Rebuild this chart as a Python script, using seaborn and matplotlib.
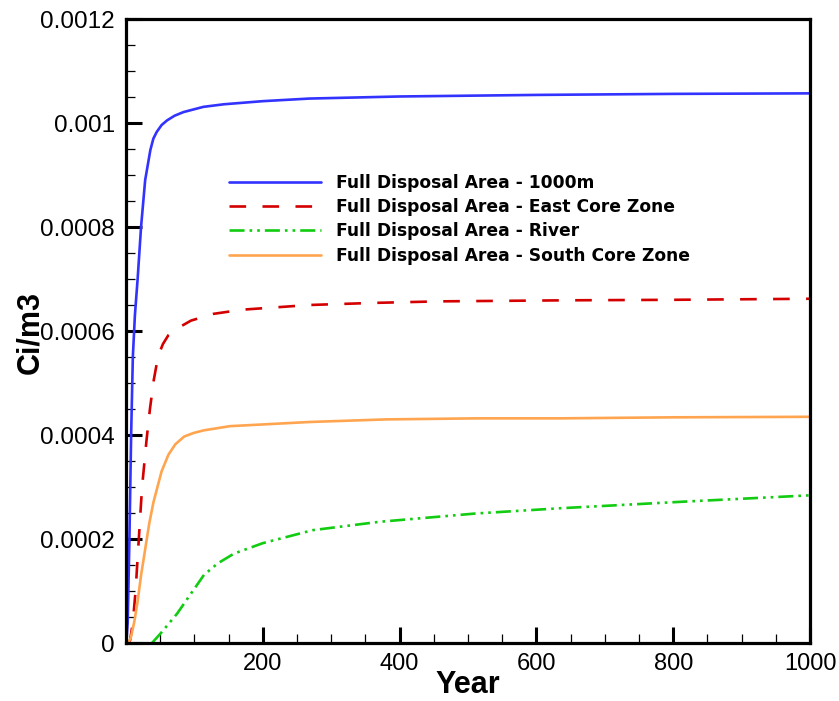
import matplotlib
matplotlib.use("Agg")
import matplotlib.pyplot as plt
from matplotlib import font_manager
from matplotlib.ticker import MultipleLocator, FixedLocator, FixedFormatter
import seaborn as sns
import pandas as pd

# Concentration histories (Ci/m3) against time (years)
years_1000m = [0, 1, 2.5, 5, 7.5, 10, 13, 17, 22, 28, 35.6, 40, 45, 52, 60, 71,
               84, 113, 143, 200, 268, 400, 600, 800, 1000]
conc_1000m = [0, 0.00001, 0.00004, 0.0002, 0.0004, 0.00055, 0.00063, 0.0007,
              0.0008, 0.00089, 0.000948, 0.00097, 0.000983, 0.000996, 0.001005,
              0.001014, 0.001021, 0.001031, 0.001036, 0.001042, 0.001047,
              0.001051, 0.001054, 0.001056, 0.001057]

years_east = [2, 6, 10, 14, 18, 23.5, 30, 35, 40.5, 47, 54, 62, 75, 95, 128,
              170, 268, 361, 458, 643, 800, 1000]
conc_east = [0, 0.000005, 0.00004, 0.0001, 0.000185, 0.0003, 0.00039, 0.00045,
             0.000505, 0.000552, 0.000575, 0.000592, 0.000605, 0.00062,
             0.000633, 0.000641, 0.00065, 0.000654, 0.000657, 0.000659,
             0.00066, 0.000662]

years_river = [38, 51, 75, 95, 114, 134, 158, 200, 273, 370, 511, 633, 818, 1000]
conc_river = [0, 0.000019, 0.000057, 0.000095, 0.000131, 0.000153, 0.000172,
              0.000192, 0.000217, 0.000233, 0.000249, 0.000259, 0.000272,
              0.000284]

years_south = [3, 7, 12, 17, 22, 28, 34, 40, 46, 52, 62, 72, 85, 99, 114, 152,
               268, 380, 511, 633, 800, 1000]
conc_south = [0, 0.00001, 0.00004, 0.00008, 0.00013, 0.00018, 0.00023,
              0.00027, 0.0003, 0.00033, 0.000362, 0.000382, 0.000397, 0.000404,
              0.000409, 0.000417, 0.000425, 0.00043, 0.000432, 0.000432,
              0.000434, 0.000435]

series_names = ["Full Disposal Area - 1000m",
                "Full Disposal Area - East Core Zone",
                "Full Disposal Area - River",
                "Full Disposal Area - South Core Zone"]

y_ticks = [0, 0.0002, 0.0004, 0.0006, 0.0008, 0.001, 0.0012]
y_tick_labels = ["0", "0.0002", "0.0004", "0.0006", "0.0008", "0.001", "0.0012"]
x_ticks = [200, 400, 600, 800, 1000]
x_tick_labels = ["200", "400", "600", "800", "1000"]

sns.set_style("white")
plt.rcParams["font.family"] = ["Liberation Sans", "DejaVu Sans"]
plt.rcParams["text.color"] = "black"
plt.rcParams["axes.labelcolor"] = "black"
plt.rcParams["xtick.color"] = "black"
plt.rcParams["ytick.color"] = "black"

# Condensed bold face for the axis titles when available
installed = {f.name for f in font_manager.fontManager.ttflist}
if "Liberation Sans Narrow" in installed:
    title_family, title_size = ["Liberation Sans Narrow", "DejaVu Sans"], 26
else:
    title_family, title_size = ["Liberation Sans", "DejaVu Sans"], 22

fig = plt.figure(figsize=(8.39, 7.01), dpi=100)
ax = fig.add_axes([126 / 839, 58 / 701, 684 / 839, 624 / 701])

LW = 1.9
styles = [
    dict(color="#3333ff", dashes=None),
    dict(color="#d40000", dashes=(6.3, 6.2)),
    dict(color="#11cc11", dashes=(5.7, 1.9, 1.0, 1.9, 1.0, 1.9)),
    dict(color="#ffa550", dashes=None),
]
series = [(years_1000m, conc_1000m), (years_east, conc_east),
          (years_river, conc_river), (years_south, conc_south)]

for (xs, ys), name, st in zip(series, series_names, styles):
    df = pd.DataFrame({"Year": xs, "Conc": ys})
    sns.lineplot(data=df, x="Year", y="Conc", ax=ax, color=st["color"],
                 linewidth=LW, label=name, estimator=None, sort=False)
    ln = ax.get_lines()[-1]
    if st["dashes"] is not None:
        ln.set_dashes(list(st["dashes"]))

ax.set_xlim(0, 1000)
ax.set_ylim(0, 0.0012)

ax.xaxis.set_major_locator(FixedLocator(x_ticks))
ax.xaxis.set_major_formatter(FixedFormatter(x_tick_labels))
ax.xaxis.set_minor_locator(MultipleLocator(50))
ax.yaxis.set_major_locator(FixedLocator(y_ticks))
ax.yaxis.set_major_formatter(FixedFormatter(y_tick_labels))
ax.yaxis.set_minor_locator(MultipleLocator(0.00005))

ax.tick_params(axis="both", which="major", direction="in", length=11.5,
               width=2.2, color="black", labelcolor="black",
               bottom=True, left=True, top=False, right=False)
ax.tick_params(axis="y", which="major", pad=8, labelsize=17.5)
ax.tick_params(axis="x", which="major", pad=7, labelsize=17)
ax.tick_params(axis="both", which="minor", direction="in", length=6.5,
               width=0.9, color="black", bottom=True, left=True, top=False,
               right=False)

for side in ["left", "bottom", "top", "right"]:
    ax.spines[side].set_visible(True)
    ax.spines[side].set_color("black")
    ax.spines[side].set_linewidth(2.3)

ax.set_xlabel("Year", fontsize=title_size, fontweight="bold",
              family=title_family)
ax.set_ylabel("Ci/m3", fontsize=title_size, fontweight="bold",
              family=title_family)
ax.xaxis.label.set_va("center")
ax.yaxis.label.set_va("center")
ax.xaxis.set_label_coords(0.5, (643 - 685) / 624)
ax.yaxis.set_label_coords((30 - 126) / 684, (643 - 332) / 624)

leg = ax.legend(loc="upper left", bbox_to_anchor=(0.1506, 0.752), frameon=False,
                prop={"family": "DejaVu Sans", "weight": "bold", "size": 12.3},
                handlelength=5.4, handletextpad=0.85, labelspacing=0.37,
                borderaxespad=0, borderpad=0)
for h in leg.get_lines():
    h.set_linewidth(LW)

fig.savefig("out.png", dpi=100)
